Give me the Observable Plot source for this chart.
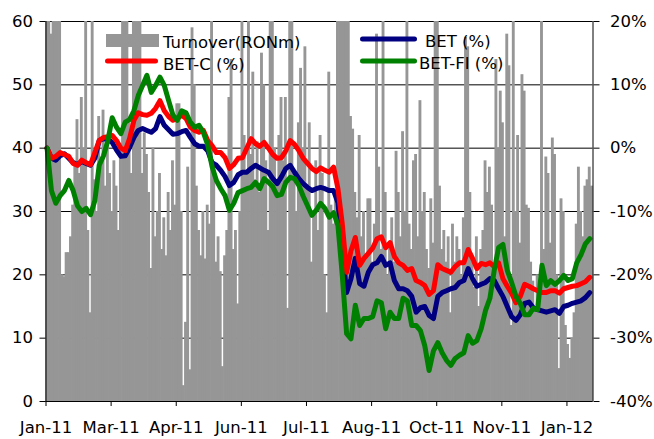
<!DOCTYPE html>
<html><head><meta charset="utf-8">
<script src="https://cdn.jsdelivr.net/npm/d3@7"></script>
<script src="https://cdn.jsdelivr.net/npm/@observablehq/plot@0.6"></script>
<style>
html,body{margin:0;padding:0;background:#fff;}
#chart svg{display:block;}
</style></head><body><div id="chart"></div>
<script>
// Daily turnover, RON m (one value per trading day)
const turnover = [
66,63,58,65,62,61,64,20,19.7,23.5,
23.5,26,31,38,44.5,36,48,40,62,27,
14,64,35,30,45,38,46,34,41.6,36,
30,38,34,27,40,60,64,63,44,36,
66,62,65,63,36,42.4,39,33,21,40,
26,30,36,24,29,23,33,27,38,31,
47,47,30,2.5,12.5,37,5,59,50,34,
27,23,30,22.5,31,28,65,37,22,26,
20.5,5.5,23,27,48,54,24,27,15.4,30,
64,42,36,63,39,52,35,41,33,55,
50,38,27,64,62,40,35,42,48,38,
48,14.7,63,66,36,30,44,52.6,40,56,
34,44,22,30,38,27,42,36,20,14,
52,31,28,33,65,70,75,68,66,64,
45,43,33,29,42,26,30,23,32,32,
22,28,58,37,24,64,33,20,25,29,
22,39.5,33,26,42.6,30,64,28,24,38,
39,26,47.5,30,33,24,21,32,25,63,
61,34,24,27,22,26,14,28,22,26,
24,20,29,57.5,56,33,22,18,26,15,
24,27,38,33,37,31,20,54,40,49,
44,26,58,53,12,64,30,42,25,51.6,
49,31,30.5,22,19,15,20,18,64,24,
38.6,36,25,41.6,39,20,5.2,32,30,12,
9,6.8,10,14,28,37,30,26,34,35,
37,34
];
// Index changes in % (one value every second trading day)
const bet = [
0,-1.6,-1.9,-1.2,-0.9,-1.6,-2.3,-2.6,-2.1,-2.4,
-2.7,-1.6,1.2,1.5,1.4,0.9,-0.3,-1.3,-1.2,0.1,
1.7,2.8,3.1,2.8,2.5,3.1,5.0,3.6,2.9,2.2,
2.3,2.6,2.8,1.7,0.7,0.3,0.3,-0.4,-2.3,-2.7,
-3.5,-4.5,-5.9,-5.4,-4.2,-3.8,-3.8,-3.2,-2.7,-3.1,
-3.5,-3.8,-4.8,-5.6,-4.5,-3.2,-2.7,-3.8,-4.8,-5.6,
-6.2,-6.7,-6.4,-6.2,-6.4,-6.7,-6.7,-8.6,-15.8,-22.8,
-20.6,-17.4,-21.4,-21.8,-19.6,-18.4,-18.1,-17.1,-18.5,-18.1,
-20.9,-22.2,-22.2,-22.5,-23.4,-25.9,-25.2,-25.0,-26.4,-26.9,
-23.4,-22.8,-22.5,-22.2,-22.0,-21.2,-20.9,-19.0,-20.6,-21.8,
-21.5,-21.2,-20.6,-20.9,-22.2,-23.4,-25.0,-26.6,-27.2,-26.3,
-24.5,-24.3,-25.2,-25.5,-25.7,-25.9,-25.7,-25.5,-26.1,-25.0,
-24.8,-24.5,-24.3,-24.1,-23.6,-22.8
];
const betC = [
0,-1.6,-1.3,-0.7,-1.0,-1.3,-2.4,-2.7,-1.9,-2.3,
-2.6,-0.7,1.2,1.7,1.8,2.0,1.2,0.0,-0.4,1.5,
4.4,5.6,5.3,5.2,5.5,6.3,7.5,5.9,5.0,4.4,
4.7,5.2,4.7,3.3,2.8,2.5,2.8,1.2,0.4,-0.7,
-0.7,-1.5,-3.2,-2.6,-1.6,-1.5,0.0,1.5,0.7,0.3,
0.9,0.0,-1.0,-1.6,-1.5,-0.4,1.2,0.6,-0.4,-1.6,
-2.4,-3.2,-3.7,-3.1,-3.5,-3.8,-3.0,-6.4,-12.0,-19.6,
-16.2,-14.1,-18.5,-17.4,-16.6,-15.8,-14.3,-14.0,-15.7,-14.9,
-17.1,-18.1,-18.5,-19.3,-19.0,-20.9,-21.2,-21.7,-23.1,-22.5,
-18.4,-19.0,-19.3,-19.6,-18.7,-18.1,-18.1,-16.0,-17.4,-19.0,
-18.2,-18.4,-18.1,-18.7,-18.1,-20.6,-21.8,-22.9,-24.4,-23.4,
-21.5,-21.8,-22.2,-22.5,-22.8,-22.8,-22.5,-22.5,-22.9,-22.2,
-22.0,-21.8,-21.7,-21.4,-21.1,-20.4
];
const betFI = [
0,-6.7,-8.7,-7.5,-6.7,-5.1,-6.7,-9.1,-10.0,-9.5,
-10.5,-8.3,-2.7,-1.2,1.2,4.8,3.3,2.3,4.1,4.5,
5.9,8.3,9.9,11.5,8.8,9.9,11.2,9.9,7.5,5.2,
4.4,5.9,5.6,4.1,3.3,3.6,2.5,0.5,-2.9,-5.1,
-6.4,-7.5,-9.8,-8.7,-7.0,-6.7,-6.4,-6.2,-5.4,-6.4,
-4.8,-5.4,-6.1,-7.5,-7.3,-5.4,-4.6,-4.8,-5.9,-7.6,
-9.1,-10.6,-9.8,-8.7,-9.5,-10.9,-10.2,-12.2,-20.1,-29.3,
-30.1,-24.8,-28.0,-26.9,-26.9,-26.6,-24.1,-24.4,-28.5,-25.9,
-26.9,-26.9,-23.7,-24.1,-28.0,-28.0,-28.8,-31.2,-35.1,-32.0,
-30.7,-32.3,-33.5,-34.3,-33.2,-32.7,-32.3,-29.6,-30.8,-30.4,
-28.5,-25.6,-23.7,-19.3,-15.7,-15.2,-19.3,-21.2,-23.4,-24.5,
-26.3,-26.3,-25.3,-25.5,-18.5,-21.7,-20.9,-21.5,-20.9,-20.1,
-20.9,-20.6,-18.1,-16.8,-15.1,-14.3
];
const xTickLabels = ["Jan-11","Mar-11","Apr-11","Jun-11","Jul-11","Aug-11","Oct-11","Nov-11","Jan-12"];
const TICK_STEP = 30;          // trading days between axis labels
const LINE_STEP = 2;           // trading days between index points
const leftTicks = [0,10,20,30,40,50,60];
const PCT_OFFSET = 40;         // right axis: -40% sits on left-axis 0

const FONT = '"DejaVu Sans", Verdana, sans-serif';
const GRAY = "#969696", NAVY = "#000080", RED = "#ff0000", GREEN = "#008000";

const bars = turnover.map((v, i) => ({s: i, v}));
const toPts = arr => arr.map((v, j) => ({s: j * LINE_STEP + 0.5, v: v + PCT_OFFSET}));
const xTicks = xTickLabels.map((_, i) => i * TICK_STEP);

const lineOpts = c => ({x: "s", y: "v", stroke: c, strokeWidth: 5, strokeLinejoin: "round", strokeLinecap: "round"});

const chart = Plot.plot({
  width: 654, height: 439,
  marginLeft: 45.5, marginRight: 61.5, marginTop: 21, marginBottom: 38,
  style: {fontFamily: FONT, fontSize: "16.5px", background: "#fff", color: "#000", overflow: "visible"},
  x: {domain: [0, turnover.length], label: null},
  y: {domain: [0, 60], clamp: true, label: null},
  marks: [
    Plot.gridY({ticks: leftTicks, stroke: "#000", strokeOpacity: 1, strokeWidth: 1}),
    Plot.rect(bars, {x1: "s", x2: d => d.s + 1, y1: () => 0, y2: "v", fill: GRAY,
      insetLeft: -0.35, insetRight: -0.35}),
    Plot.line(toPts(bet), lineOpts(NAVY)),
    Plot.line(toPts(betC), lineOpts(RED)),
    Plot.line(toPts(betFI), lineOpts(GREEN)),
    Plot.ruleY([0], {stroke: "#000"}),
    Plot.ruleX([0, turnover.length], {stroke: "#000"}),
    Plot.axisY({ticks: leftTicks, anchor: "left", tickSize: 6, tickPadding: 7, label: null, stroke: "#000"}),
    Plot.axisY({ticks: leftTicks, anchor: "right", tickSize: 6, tickPadding: 11, label: null, stroke: "#000",
      tickFormat: d => `${d - PCT_OFFSET}%`}),
    Plot.axisX({ticks: xTicks, anchor: "bottom", tickSize: 5, tickPadding: 15, label: null, stroke: "#000",
      tickFormat: d => xTickLabels[Math.round(d / TICK_STEP)]})
  ]
});
document.getElementById("chart").appendChild(chart);

// Legend drawn inside the plot area, as in the original
const legend = [
  {name: "Turnover(RONm)", type: "bar",  color: GRAY,  x1: 106,   x2: 159,   y: 40.5, tx: 163, ty: 47.5},
  {name: "BET-C (%)",      type: "line", color: RED,   x1: 107.5, x2: 155.5, y: 61,   tx: 163, ty: 70},
  {name: "BET (%)",        type: "line", color: NAVY,  x1: 362.5, x2: 414.5, y: 39,   tx: 425, ty: 47},
  {name: "BET-FI (%)",     type: "line", color: GREEN, x1: 362.5, x2: 414.5, y: 61,   tx: 419, ty: 69}
];
const svg = d3.select(chart);
const g = svg.append("g").attr("font-family", FONT).attr("font-size", "16.5px").attr("text-anchor", "start");
for (const it of legend) {
  if (it.type === "bar") {
    g.append("rect").attr("x", it.x1).attr("y", it.y - 6.5).attr("width", it.x2 - it.x1).attr("height", 13).attr("fill", it.color);
  } else {
    g.append("line").attr("x1", it.x1).attr("x2", it.x2).attr("y1", it.y).attr("y2", it.y)
      .attr("stroke", it.color).attr("stroke-width", 5).attr("stroke-linecap", "round");
  }
  g.append("text").attr("x", it.tx).attr("y", it.ty).attr("fill", "#000").attr("text-anchor", "start").text(it.name);
}
</script>
</body></html>
